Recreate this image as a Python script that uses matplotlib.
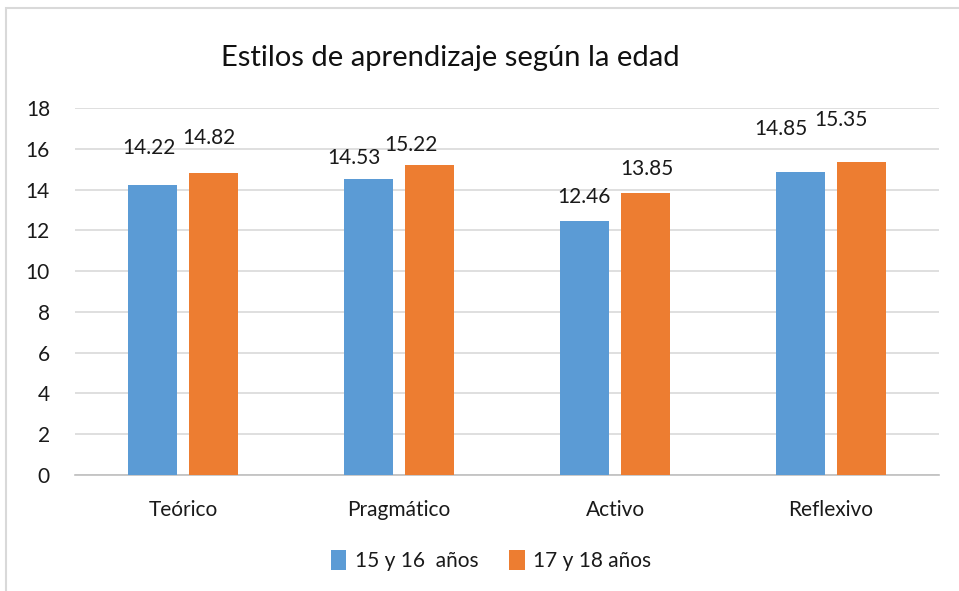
import matplotlib.pyplot as plt
from matplotlib.patches import Rectangle
import numpy as np

plt.rcParams['font.family'] = ['Lato', 'DejaVu Sans']

categories = ["Teórico", "Pragmático", "Activo", "Reflexivo"]
series_names = ["15 y 16  años", "17 y 18 años"]
edad_15_16 = [14.22, 14.53, 12.46, 14.85]
edad_17_18 = [14.82, 15.22, 13.85, 15.35]
y_ticks = [0, 2, 4, 6, 8, 10, 12, 14, 16, 18]

# label nudges in points (dx, dy), Excel placed them a bit unevenly
nudge_a = [(-2.5, 26.5), (-10.5, 15), (0, 17.3), (-14, 31)]
nudge_b = [(-3.6, 25.2), (-13.3, 14.4), (0.7, 17.3), (-14.8, 30.2)]

blue = "#5B9BD5"
orange = "#ED7D31"
text_col = "#1a1a1a"

fig = plt.figure(figsize=(9.59, 5.91), dpi=100)
ax = fig.add_axes([0.0782, 0.1963, 0.901, 0.621])

x = np.arange(len(categories))
w = 0.227
off = 0.143
bars_a = ax.bar(x - off, edad_15_16, w, color=blue, label=series_names[0], zorder=3)
bars_b = ax.bar(x + off, edad_17_18, w, color=orange, label=series_names[1], zorder=3)

for bars, vals, nud in ((bars_a, edad_15_16, nudge_a), (bars_b, edad_17_18, nudge_b)):
    for b, v, (dx, dy) in zip(bars, vals, nud):
        ax.annotate(f"{v:.2f}", (b.get_x() + b.get_width() / 2, v),
                    xytext=(dx, dy), textcoords="offset points",
                    ha="center", va="center", fontsize=15, color=text_col)

ax.set_xlim(-0.5, len(categories) - 0.5)
ax.set_ylim(0, 18)
ax.set_yticks(y_ticks)
ax.set_xticks(x)
ax.set_xticklabels(categories)
ax.tick_params(axis="both", length=0, labelsize=15, colors=text_col)
ax.tick_params(axis="x", pad=18)
ax.tick_params(axis="y", pad=18)
ax.grid(axis="y", color="#D9D9D9", linewidth=1.2, zorder=0)
for s in ["top", "right", "left"]:
    ax.spines[s].set_visible(False)
ax.spines["bottom"].set_color("#BFBFBF")
ax.spines["bottom"].set_linewidth(1.2)

fig.text(0.47, 0.902, "Estilos de aprendizaje según la edad", ha="center", va="center",
         fontsize=21, color="#111111")

fig.legend(handles=[bars_a, bars_b], labels=series_names, loc="center",
           bbox_to_anchor=(0.512, 0.052), ncol=2, frameon=False, fontsize=15,
           handlelength=0.75, handleheight=1.1, handletextpad=0.4, columnspacing=1.5,
           labelcolor=text_col)

fig.patches.append(Rectangle((6 / 959, -0.1), 1.2, 1 - 8 / 591 + 0.1, transform=fig.transFigure,
                             fill=False, edgecolor="#D9D9D9", linewidth=1.5))

fig.savefig("out.png", dpi=100)
